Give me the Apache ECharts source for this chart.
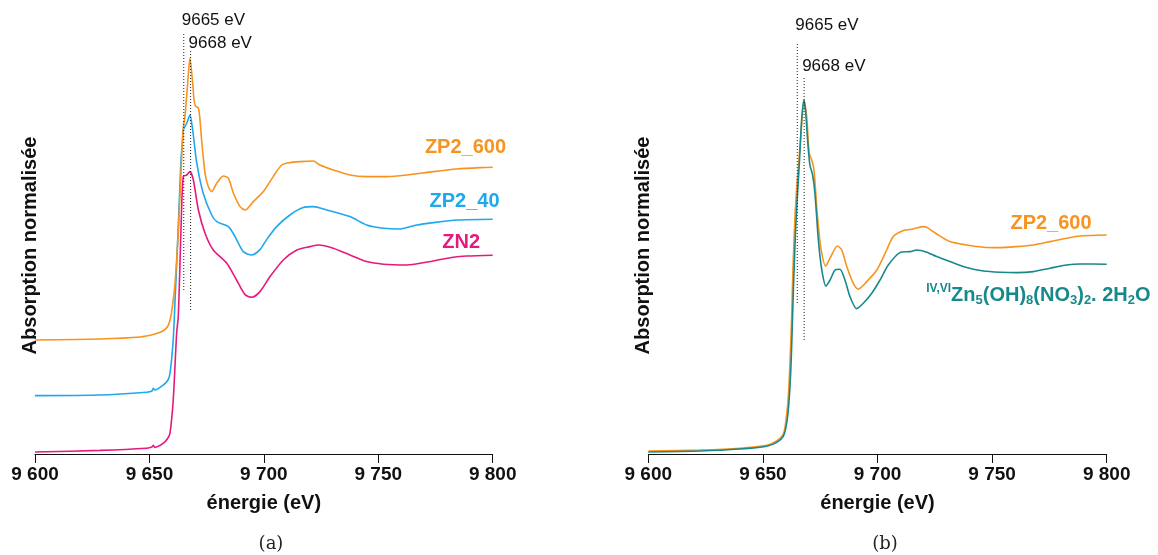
<!DOCTYPE html>
<html>
<head>
<meta charset="utf-8">
<script src="https://cdn.jsdelivr.net/npm/echarts@6/dist/echarts.min.js"></script>
<style>
html,body{margin:0;padding:0;background:#fff;}
#chart{width:1158px;height:555px;}
</style>
</head>
<body>
<div id="chart"></div>
<script>
// ---------- DATA ----------
const xTickValues = [9600, 9650, 9700, 9750, 9800];
const xTickLabels = ['9 600', '9 650', '9 700', '9 750', '9 800'];
const xTitle = 'énergie (eV)';
const yTitle = 'Absorption normalisée';
const panelCaptions = ['(a)', '(b)'];

// peak marker energies and labels
const peakEnergies = [9665, 9668];
const peakLabels = ['9665 eV', '9668 eV'];

// (a) ZP2_600 [energy eV, normalised absorption + offset]
const zp2_600_a = [[9600,0.570],[9628.4,0.575],[9645.9,0.585],[9652.4,0.600],[9655.9,0.615],[9658.1,0.640],[9659.4,0.690],[9660.4,0.770],[9661.2,0.855],[9662.6,1.105],[9664.1,1.487],[9664.8,1.635],[9665.5,1.685],[9666.3,1.795],[9667.1,1.910],[9667.7,1.979],[9668.9,1.854],[9669.5,1.770],[9670.1,1.740],[9671.4,1.729],[9672.1,1.670],[9672.8,1.570],[9674.3,1.404],[9675.7,1.337],[9677.2,1.312],[9679.4,1.354],[9682.3,1.390],[9684.5,1.379],[9686.7,1.304],[9689.6,1.237],[9691.8,1.220],[9695.4,1.262],[9699.8,1.312],[9704.1,1.387],[9707.8,1.445],[9711.4,1.457],[9715.8,1.462],[9721.6,1.465],[9724.5,1.445],[9730.3,1.420],[9737.6,1.395],[9744.9,1.387],[9753.7,1.387],[9762.4,1.395],[9774.0,1.412],[9784.3,1.425],[9794.5,1.432],[9800,1.434]];
// (a) ZP2_40
const zp2_40_a = [[9600,0.292],[9628.4,0.295],[9648.8,0.309],[9651.1,0.315],[9651.7,0.329],[9652.4,0.320],[9656.1,0.345],[9658.1,0.370],[9659.0,0.404],[9660.4,0.570],[9661.2,0.770],[9661.8,0.920],[9662.9,1.220],[9663.8,1.470],[9664.5,1.570],[9664.8,1.620],[9666.3,1.654],[9667.7,1.695],[9668.9,1.620],[9670.7,1.454],[9673.5,1.304],[9677.2,1.195],[9679.4,1.162],[9684.5,1.137],[9687.4,1.087],[9691.0,1.012],[9694.7,0.995],[9698.3,1.022],[9701.2,1.072],[9705.6,1.137],[9711.4,1.195],[9717.2,1.232],[9721.6,1.237],[9727.5,1.220],[9737.6,1.187],[9744.9,1.145],[9752.2,1.129],[9759.5,1.125],[9766.8,1.145],[9774.0,1.157],[9784.3,1.170],[9800,1.174]];
// (a) ZN2
const zn2_a = [[9600,0.010],[9628.4,0.018],[9648.8,0.029],[9651.1,0.035],[9651.7,0.043],[9652.4,0.033],[9656.1,0.054],[9658.1,0.080],[9659.0,0.104],[9660.4,0.270],[9661.9,0.605],[9662.6,0.687],[9663.4,0.970],[9664.1,1.237],[9664.8,1.387],[9666.3,1.395],[9667.7,1.412],[9669.2,1.370],[9671.4,1.220],[9674.3,1.104],[9677.9,1.020],[9683.8,0.954],[9688.1,0.870],[9691.8,0.797],[9694.7,0.784],[9698.3,0.812],[9702.7,0.887],[9708.5,0.970],[9714.4,1.020],[9720.2,1.037],[9723.8,1.045],[9730.3,1.029],[9737.6,0.995],[9744.9,0.962],[9752.2,0.949],[9762.4,0.945],[9774.0,0.965],[9782.8,0.984],[9788.6,0.990],[9800,0.994]];
// (b) ZP2_600
const zp2_600_b = [[9600,0.015],[9622.6,0.020],[9640.0,0.029],[9651.7,0.044],[9656.0,0.065],[9658.9,0.100],[9660.1,0.170],[9661.1,0.290],[9661.8,0.455],[9662.5,0.670],[9663.1,0.920],[9664.0,1.187],[9665.0,1.370],[9666.2,1.537],[9667.4,1.720],[9667.9,1.767],[9669.1,1.687],[9670.2,1.504],[9671.3,1.470],[9672.3,1.420],[9673.7,1.204],[9675.2,1.037],[9677.4,0.940],[9679.3,0.979],[9682.5,1.040],[9684.4,1.020],[9686.6,0.937],[9689.4,0.854],[9691.6,0.824],[9695.3,0.862],[9699.7,0.920],[9704.0,1.020],[9706.9,1.087],[9711.3,1.117],[9715.6,1.125],[9720.0,1.137],[9721.5,1.133],[9725.8,1.100],[9731.6,1.062],[9738.9,1.045],[9746.2,1.034],[9753.4,1.032],[9760.7,1.037],[9768.0,1.045],[9775.3,1.062],[9782.5,1.079],[9788.3,1.090],[9800,1.095]];
// (b) Zn5(OH)8(NO3)2.2H2O reference
const zhn_b = [[9600,0.010],[9622.6,0.015],[9640.0,0.025],[9651.7,0.039],[9656.0,0.058],[9658.9,0.088],[9660.4,0.155],[9661.5,0.280],[9662.3,0.455],[9662.9,0.670],[9663.3,0.820],[9664.0,1.045],[9664.7,1.220],[9665.9,1.454],[9666.9,1.670],[9667.9,1.770],[9668.7,1.704],[9669.5,1.570],[9670.5,1.445],[9671.7,1.395],[9672.7,1.304],[9674.2,1.070],[9675.7,0.920],[9677.5,0.840],[9679.3,0.870],[9681.5,0.920],[9683.6,0.924],[9685.8,0.870],[9688.0,0.787],[9690.9,0.727],[9693.8,0.754],[9697.5,0.804],[9701.1,0.870],[9704.7,0.945],[9709.8,1.007],[9714.2,1.012],[9717.1,1.020],[9721.5,1.009],[9725.8,0.987],[9731.6,0.962],[9738.9,0.932],[9746.2,0.915],[9753.4,0.909],[9760.7,0.907],[9768.0,0.912],[9775.3,0.929],[9782.5,0.945],[9788.3,0.950],[9800,0.949]];

// peak marker line extents [bottom, top] per panel
const peakLinesA = [[0.82, 2.11], [0.72, 2.02]];
const peakLinesB = [[0.755, 2.055], [0.57, 1.88]];
const peakLabelYA = [2.17, 2.055];
const peakLabelYB = [2.145, 1.94];

// series label anchors [energy, y]
const labelPosA = {ZP2_600: [9788.1, 1.533], ZP2_40: [9787.7, 1.263], ZN2: [9786.2, 1.058]};
const labelPosB = {ZP2_600: [9775.7, 1.155], ZHN: [9770.2, 0.795]};

// ---------- STYLE ----------
const FONT = '"Liberation Sans", Arial, Helvetica, sans-serif';
const C_OR = '#F7931E', C_BL = '#1DA9EC', C_PK = '#E6197E', C_TL = '#17898A';

const chart = echarts.init(document.getElementById('chart'), null, {renderer: 'canvas'});

function xAxisCfg(gi) {
  return {
    gridIndex: gi, type: 'value', min: 9600, max: 9800, interval: 50,
    axisLine: {show: true, onZero: false, lineStyle: {color: '#111', width: 1}},
    axisTick: {show: true, length: 9, lineStyle: {color: '#111', width: 1}},
    axisLabel: {margin: 11, fontSize: 19, fontWeight: 'bold', color: '#111', fontFamily: FONT,
      formatter: v => { const i = xTickValues.indexOf(v); return i >= 0 ? xTickLabels[i] : ''; }},
    splitLine: {show: false},
    name: xTitle, nameLocation: 'middle', nameGap: 39,
    nameTextStyle: {fontSize: 20, fontWeight: 'bold', color: '#111', fontFamily: FONT}
  };
}
function yAxisCfg(gi) {
  return {gridIndex: gi, type: 'value', min: 0, max: 2.27,
    axisLine: {show: false}, axisTick: {show: false}, axisLabel: {show: false}, splitLine: {show: false}};
}
function curve(name, data, color, gi) {
  return {type: 'line', name, data, xAxisIndex: gi, yAxisIndex: gi, showSymbol: false, symbol: 'none',
    smooth: 0.25, lineStyle: {color, width: 1.6}, silent: true, z: 3};
}
function peakLine(e, ext, gi) {
  return {type: 'line', data: [[e, ext[0]], [e, ext[1]]], xAxisIndex: gi, yAxisIndex: gi,
    showSymbol: false, symbol: 'none', lineStyle: {color: '#222', width: 1, type: [1, 2]}, silent: true, z: 4};
}
function peakText(ys, gi) {
  return {type: 'scatter', xAxisIndex: gi, yAxisIndex: gi, symbolSize: 0.1, silent: true, z: 5,
    itemStyle: {opacity: 1, color: 'rgba(0,0,0,0)'},
    data: peakEnergies.map((e, i) => ({value: [e, ys[i]], label: {formatter: peakLabels[i]}})),
    label: {show: true, position: 'inside', align: 'left', verticalAlign: 'middle', offset: [-2, 0],
      fontSize: 17, color: '#111', fontFamily: FONT, opacity: 1}};
}
function nameText(items, gi) {
  return {type: 'scatter', xAxisIndex: gi, yAxisIndex: gi, symbolSize: 0.1, silent: true, z: 5,
    itemStyle: {opacity: 1, color: 'rgba(0,0,0,0)'},
    data: items.map(it => ({value: it.pos, label: {formatter: it.text}})),
    label: {show: true, position: 'inside', align: 'center', verticalAlign: 'middle', opacity: 1,
      rich: {
        o: {fontSize: 20, fontWeight: 'bold', color: C_OR, fontFamily: FONT},
        b: {fontSize: 20, fontWeight: 'bold', color: C_BL, fontFamily: FONT},
        p: {fontSize: 20, fontWeight: 'bold', color: C_PK, fontFamily: FONT},
        t: {fontSize: 20, fontWeight: 'bold', color: C_TL, fontFamily: FONT, lineHeight: 24},
        s: {fontSize: 13, fontWeight: 'bold', color: C_TL, fontFamily: FONT, lineHeight: 17, verticalAlign: 'bottom'},
        u: {fontSize: 12, fontWeight: 'bold', color: C_TL, fontFamily: FONT, lineHeight: 18, verticalAlign: 'top'}
      }}};
}

const option = {
  animation: false,
  backgroundColor: '#fff',
  grid: [
    {left: 35, width: 457.7, top: 0, height: 454},
    {left: 648.3, width: 458.4, top: 0, height: 454}
  ],
  xAxis: [xAxisCfg(0), xAxisCfg(1)],
  yAxis: [yAxisCfg(0), yAxisCfg(1)],
  series: [
    curve('ZN2', zn2_a, C_PK, 0),
    curve('ZP2_40', zp2_40_a, C_BL, 0),
    curve('ZP2_600', zp2_600_a, C_OR, 0),
    peakLine(peakEnergies[0], peakLinesA[0], 0),
    peakLine(peakEnergies[1], peakLinesA[1], 0),
    peakText(peakLabelYA, 0),
    nameText([
      {pos: labelPosA.ZP2_600, text: '{o|ZP2_600}'},
      {pos: labelPosA.ZP2_40, text: '{b|ZP2_40}'},
      {pos: labelPosA.ZN2, text: '{p|ZN2}'}
    ], 0),
    curve('ZP2_600 b', zp2_600_b, C_OR, 1),
    curve('Zn5(OH)8(NO3)2.2H2O', zhn_b, C_TL, 1),
    peakLine(peakEnergies[0], peakLinesB[0], 1),
    peakLine(peakEnergies[1], peakLinesB[1], 1),
    peakText(peakLabelYB, 1),
    nameText([
      {pos: labelPosB.ZP2_600, text: '{o|ZP2_600}'},
      {pos: labelPosB.ZHN, text: '{u|IV,VI}{t|Zn}{s|5}{t|(OH)}{s|8}{t|(NO}{s|3}{t|)}{s|2}{t|. 2H}{s|2}{t|O}'}
    ], 1)
  ],
  graphic: [
    {type: 'text', x: 30, y: 245.5, rotation: Math.PI / 2,
      style: {text: yTitle, fontSize: 20, fontWeight: 'bold', fill: '#111', fontFamily: FONT, align: 'center', verticalAlign: 'middle'}},
    {type: 'text', x: 643, y: 245.5, rotation: Math.PI / 2,
      style: {text: yTitle, fontSize: 20, fontWeight: 'bold', fill: '#111', fontFamily: FONT, align: 'center', verticalAlign: 'middle'}},
    {type: 'text', x: 271, y: 544,
      style: {text: panelCaptions[0], fontSize: 18, fill: '#222', fontFamily: '"DejaVu Serif", serif', align: 'center', verticalAlign: 'middle'}},
    {type: 'text', x: 885, y: 544,
      style: {text: panelCaptions[1], fontSize: 18, fill: '#222', fontFamily: '"DejaVu Serif", serif', align: 'center', verticalAlign: 'middle'}}
  ]
};
chart.setOption(option);
</script>
</body>
</html>
